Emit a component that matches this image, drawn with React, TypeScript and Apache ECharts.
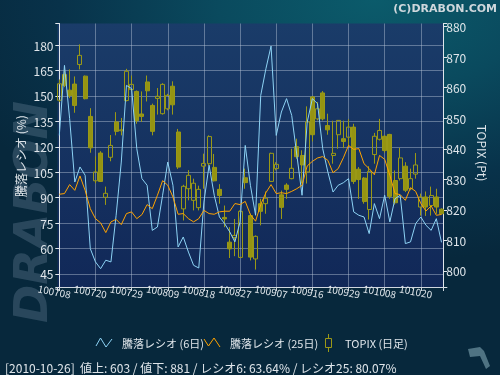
import { useEffect, useRef } from 'react';
import * as echarts from 'echarts';

const dates = [
  '100708','100709','100712','100713','100714','100715','100716','100720','100721','100722',
  '100723','100726','100727','100728','100729','100730','100802','100803','100804','100805',
  '100806','100809','100810','100811','100812','100813','100816','100817','100818','100819',
  '100820','100823','100824','100825','100826','100827','100830','100831','100901','100902',
  '100903','100906','100907','100908','100909','100910','100913','100914','100915','100916',
  '100917','100921','100922','100924','100927','100928','100929','100930','101001','101004',
  '101005','101006','101007','101008','101012','101013','101014','101015','101018','101019',
  '101020','101021','101022','101025','101026'
];

const topixOpen = [
  855.9,864.3,859.2,861.2,867.6,863.8,850.6,829.5,838.6,824.1,
  837.2,848.8,845.9,855.8,859.4,858.8,851.4,861.9,854.2,856.5,
  851.5,853.1,860.5,845.5,820.3,826.9,823.1,820.7,834.3,835.1,
  833.9,826.7,817.5,809.4,810.9,804.4,830.5,818.1,803.9,822.0,
  822.0,829.3,833.5,824.9,828.1,830.2,840.7,837.8,832.4,857.0,
  849.8,858.3,847.6,837.8,844.6,843.3,843.8,847.1,833.3,830.4,
  820.1,838.1,843.1,844.1,844.7,829.6,830.2,834.3,826.9,831.7,
  820.9,824.2,821.4,824.2,820.2
];
const topixClose = [
  861.3,860.8,857.4,854.2,870.6,856.4,840.3,832.4,829.3,825.4,
  841.1,845.7,846.2,865.4,861.1,849.2,850.6,859.0,845.7,857.2,
  861.1,857.5,854.4,834.0,827.7,831.3,828.7,826.7,835.2,844.0,
  829.5,824.7,817.0,807.2,811.6,819.5,828.9,804.5,811.3,819.5,
  823.8,838.5,834.9,820.8,826.7,833.6,837.4,834.7,848.8,844.6,
  853.1,849.8,846.2,838.5,849.3,842.4,847.1,829.3,829.9,822.7,
  832.6,844.1,846.0,839.4,824.4,822.3,837.0,826.4,830.2,834.7,
  824.2,820.9,824.7,820.9,818.7
];
const topixLow = [
  855.3,860.2,856.6,851.8,866.0,856.2,838.7,828.7,829.1,821.6,
  835.9,844.4,844.4,855.5,858.8,848.2,848.8,855.5,844.4,851.2,
  851.2,852.6,851.2,833.4,816.5,823.1,819.8,819.8,826.9,834.5,
  829.3,822.0,814.3,804.2,804.8,804.2,826.9,803.4,800.4,814.9,
  818.7,829.1,832.9,817.0,823.6,830.0,836.7,828.6,828.6,842.4,
  849.3,849.3,844.6,835.1,840.0,840.2,840.6,828.5,823.6,822.0,
  816.8,835.1,842.7,838.7,823.6,821.7,829.6,825.8,826.4,830.2,
  818.1,818.0,818.1,818.7,818.5
];
const topixHigh = [
  862.7,866.0,866.0,863.7,874.2,864.0,853.3,837.5,839.2,827.6,
  844.5,852.0,850.1,866.2,864.0,859.1,858.8,864.0,854.8,859.9,
  861.5,858.0,862.1,846.5,828.2,833.0,830.2,827.9,838.4,844.4,
  838.3,828.4,821.4,814.3,817.0,819.8,833.5,818.7,811.6,823.6,
  826.0,838.7,835.6,826.3,828.7,840.0,843.3,839.5,853.9,857.3,
  855.3,858.9,851.5,849.2,849.4,849.2,849.7,848.2,834.0,830.7,
  834.3,845.2,849.8,844.5,844.9,832.9,840.3,835.6,833.5,838.6,
  825.3,826.0,827.6,826.9,820.5
];

const ratio6 = [
  126.7,168.0,136.6,99.2,108.1,103.2,59.9,52.1,48.1,53.1,
  52.1,79.6,111.0,156.2,154.3,118.9,101.2,97.3,70.7,72.7,
  91.4,111.0,97.3,60.9,66.8,57.9,50.1,48.5,87.4,109.1,
  91.4,78.6,74.7,69.8,63.9,75.7,120.8,97.3,79.6,150.3,
  166.0,179.4,126.7,140.5,148.4,138.5,115.0,91.4,134.6,148.4,
  145.4,118.9,105.1,93.3,97.3,98.8,101.2,81.6,79.6,78.6,
  68.8,86.5,77.6,91.4,75.7,89.4,91.4,62.9,63.9,74.7,
  78.6,73.7,70.7,77.6,63.64
];
const ratio25 = [
  92.0,92.4,97.7,94.3,102.8,94.3,83.5,77.6,75.1,69.4,
  75.7,77.2,74.1,80.6,81.6,77.6,80.0,85.9,83.5,91.4,
  100.0,97.3,90.4,80.2,80.6,77.6,75.7,77.6,82.5,80.6,
  80.2,81.6,82.0,82.0,86.5,85.9,87.8,80.0,76.1,85.9,
  92.9,97.7,92.4,92.9,92.4,93.7,95.3,97.3,108.7,111.4,
  113.4,114.2,112.0,104.7,107.1,113.5,120.8,118.5,118.9,110.0,
  107.1,103.5,114.9,112.6,103.2,92.4,91.8,88.4,95.9,93.7,
  86.5,82.1,85.1,79.6,80.07
];

const title = '(C)DRABON.COM';
const leftAxisName = '騰落レシオ (%)';
const rightAxisName = 'TOPIX (Pt)';
const legendNames = ['騰落レシオ (6日)', '騰落レシオ (25日)', 'TOPIX (日足)'];
const footer = '[2010-10-26]  値上: 603 / 値下: 881 / レシオ6: 63.64% / レシオ25: 80.07%';

const FONT = '"Noto Sans CJK JP", "DejaVu Sans", sans-serif';
const TEXT = '#dfe5ea';
const CYAN = '#8dd3f5';
const ORANGE = '#ffa300';
const OLIVE = '#9a9916';
const OLIVE_FILL = '#959412';

export default function App() {
  const ref = useRef<HTMLDivElement>(null);
  useEffect(() => {
    if (!ref.current) return;
    const chart = echarts.init(ref.current, undefined, { renderer: 'svg' });
    const candleData = dates.map((_, i) => [i, topixOpen[i], topixClose[i], topixLow[i], topixHigh[i]]);
    const option: any = {
      animation: false,
      backgroundColor: 'transparent',
      textStyle: { fontFamily: FONT },
      grid: {
        left: 57.5, top: 23.5, width: 385.8, height: 263.5,
        show: true, borderWidth: 0,
        backgroundColor: new echarts.graphic.LinearGradient(0, 0, 0, 1, [
          { offset: 0, color: '#1a3c69' },
          { offset: 1, color: '#112858' },
        ]),
      },
      xAxis: {
        type: 'value', min: -0.35, max: 74.35, minInterval: 7, maxInterval: 7,
        axisLine: { show: true, lineStyle: { color: '#cfd6de', width: 1 } },
        axisTick: { show: true, length: 4, lineStyle: { color: '#cfd6de' } },
        splitLine: { show: true, showMinLine: false, showMaxLine: false, lineStyle: { color: 'rgba(185,198,215,0.45)', width: 1 } },
        axisLabel: {
          color: TEXT, fontFamily: FONT, fontSize: 10, rotate: -11, margin: 5,
          align: 'center', padding: [0, 10, 0, 0],
          formatter: (v: number) => (Number.isInteger(v) && v % 7 === 0 && dates[v] ? dates[v] : ''),
        },
      },
      yAxis: [
        {
          type: 'value', position: 'left', min: 37.3, max: 192.7, minInterval: 15, maxInterval: 15,
          axisLine: { show: true, lineStyle: { color: '#dfe5ea', width: 1 } },
          axisTick: { show: true, length: 4, lineStyle: { color: '#dfe5ea' } },
          splitLine: { show: true, showMinLine: false, showMaxLine: false, lineStyle: { color: 'rgba(185,198,215,0.45)', width: 1 } },
          axisLabel: {
            color: TEXT, fontFamily: FONT, fontSize: 12, margin: 4,
            formatter: (v: number) => (Number.isInteger(v) && v % 15 === 0 ? String(v) : ''),
          },
        },
        {
          type: 'value', position: 'right', min: 794.7, max: 881.05, minInterval: 10, maxInterval: 10,
          axisLine: { show: true, lineStyle: { color: '#dfe5ea', width: 1 } },
          axisTick: { show: true, length: 4, lineStyle: { color: '#dfe5ea' } },
          splitLine: { show: false },
          axisLabel: {
            color: TEXT, fontFamily: FONT, fontSize: 12, margin: 3,
            formatter: (v: number) => (Number.isInteger(v) && v % 10 === 0 ? String(v) : ''),
          },
        },
      ],
      series: [
        {
          name: legendNames[2], type: 'candlestick', xAxisIndex: 0, yAxisIndex: 1,
          data: candleData, encode: { x: 0, y: [1, 2, 3, 4] }, barWidth: 4.5,
          itemStyle: {
            color: 'rgba(0,0,0,0)', color0: OLIVE_FILL,
            borderColor: OLIVE, borderColor0: OLIVE, borderWidth: 1,
          },
          z: 2,
        },
        {
          name: legendNames[0], type: 'line', yAxisIndex: 0,
          data: ratio6.map((v, i) => [i, v]), showSymbol: false, symbol: 'none',
          lineStyle: { color: CYAN, width: 1 }, z: 3,
        },
        {
          name: legendNames[1], type: 'line', yAxisIndex: 0,
          data: ratio25.map((v, i) => [i, v]), showSymbol: false, symbol: 'none',
          lineStyle: { color: ORANGE, width: 1 }, z: 4,
        },
      ],
      graphic: [
        {
          type: 'text', x: 31, y: 212, rotation: Math.PI / 2, z: -1,
          style: { text: 'DRABON', font: 'italic bold 46px "DejaVu Sans"', fill: 'rgba(130,155,175,0.28)', align: 'center', verticalAlign: 'middle', textAlign: 'center', textVerticalAlign: 'middle' },
        },
        {
          type: 'text', x: 497, y: 8,
          style: { text: title, font: 'bold 11px "DejaVu Sans"', fill: '#cfd7dc', align: 'right', verticalAlign: 'middle', textAlign: 'right', textVerticalAlign: 'middle' },
        },
        {
          type: 'text', x: 20, y: 156, rotation: Math.PI / 2,
          style: { text: leftAxisName, font: `12px ${FONT}`, fill: TEXT, align: 'center', verticalAlign: 'middle', textAlign: 'center', textVerticalAlign: 'middle' },
        },
        {
          type: 'text', x: 482, y: 153, rotation: -Math.PI / 2,
          style: { text: rightAxisName, font: `12px ${FONT}`, fill: TEXT, align: 'center', verticalAlign: 'middle', textAlign: 'center', textVerticalAlign: 'middle' },
        },
        {
          type: 'polyline', shape: { points: [[96, 346], [100.5, 338], [106, 347], [112, 339]] },
          style: { stroke: CYAN, lineWidth: 1, fill: 'none' },
        },
        {
          type: 'text', x: 122, y: 343,
          style: { text: legendNames[0], font: `11px ${FONT}`, fill: TEXT, align: 'left', verticalAlign: 'middle', textAlign: 'left', textVerticalAlign: 'middle' },
        },
        {
          type: 'polyline', shape: { points: [[204, 339], [208.5, 346], [214, 338], [220, 347]] },
          style: { stroke: ORANGE, lineWidth: 1, fill: 'none' },
        },
        {
          type: 'text', x: 230, y: 343,
          style: { text: legendNames[1], font: `11px ${FONT}`, fill: TEXT, align: 'left', verticalAlign: 'middle', textAlign: 'left', textVerticalAlign: 'middle' },
        },
        {
          type: 'line', shape: { x1: 328.5, y1: 334, x2: 328.5, y2: 352 },
          style: { stroke: OLIVE, lineWidth: 1 },
        },
        {
          type: 'rect', shape: { x: 325.5, y: 338.5, width: 6, height: 9 },
          style: { stroke: OLIVE, lineWidth: 1, fill: '#0c2440' },
        },
        {
          type: 'text', x: 345, y: 343,
          style: { text: legendNames[2], font: `11px ${FONT}`, fill: TEXT, align: 'left', verticalAlign: 'middle', textAlign: 'left', textVerticalAlign: 'middle' },
        },
        {
          type: 'text', x: 5, y: 367,
          style: { text: footer, font: `12px ${FONT}`, fill: TEXT, align: 'left', verticalAlign: 'middle', textAlign: 'left', textVerticalAlign: 'middle' },
        },
        {
          type: 'polygon',
          shape: { points: [[468, 349], [480, 347], [484, 351], [490, 366], [486, 369], [480, 356], [470, 357]] },
          style: { fill: '#4f7383' },
        },
      ],
    };
    chart.setOption(option);
    return () => chart.dispose();
  }, []);
  return (
    <div
      ref={ref}
      style={{
        position: 'fixed', left: 0, top: 0, width: 500, height: 375,
        background: 'radial-gradient(ellipse 90% 70% at 75% 0%, #0b5b6b 0%, #0a4a5e 35%, #08324a 70%, #07283c 100%)',
      }}
    />
  );
}
